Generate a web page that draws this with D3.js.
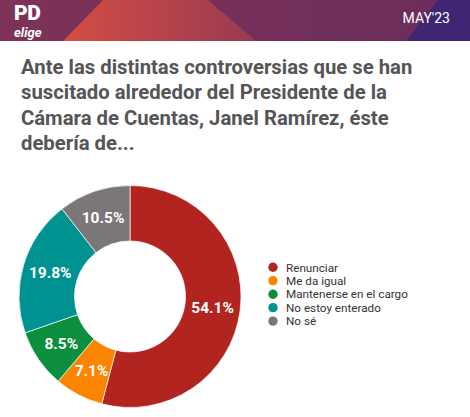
<!DOCTYPE html>
<meta charset="utf-8">
<script src="https://d3js.org/d3.v7.min.js"></script>
<style>
  body { margin: 0; background: #fff; }
  text { font-family: Roboto, "Noto Sans", sans-serif; }
</style>
<div id="chart"></div>
<script>

// data
const categories = ["Renunciar", "Me da igual", "Mantenerse en el cargo", "No estoy enterado", "No sé"];
const values = [54.1, 7.1, 8.5, 19.8, 10.5];
const colors = ["#b1241f", "#fb8400", "#0b8e3e", "#009191", "#7b7677"];
const titleLines = [
  "Ante las distintas controversias que se han",
  "suscitado alrededor del Presidente de la",
  "Cámara de Cuentas, Janel Ramírez, éste",
  "debería de..."
];

const width = 470, height = 417;

const svg = d3.select("#chart")
  .append("svg")
    .attr("width", width)
    .attr("height", height);

// header band
const defs = svg.append("defs");
const bg = defs.append("linearGradient").attr("id", "bg");
bg.append("stop").attr("offset", "0%").attr("stop-color", "#7e3256");
bg.append("stop").attr("offset", "100%").attr("stop-color", "#6b2d5d");
const red = defs.append("linearGradient").attr("id", "red");
red.append("stop").attr("offset", "0%").attr("stop-color", "#d44d43");
red.append("stop").attr("offset", "100%").attr("stop-color", "#973b52");

svg.append("rect")
  .attr("width", width).attr("height", 41)
  .attr("fill", "url(#bg)");
svg.append("path")
  .attr("d", "M103,0 L208,0 L256,41 L63,41 Z")
  .attr("fill", "url(#red)");
svg.append("path")
  .attr("d", "M438,0 L470,0 L470,41 L406,41 Z")
  .attr("fill", "#3e2672");

// logo
svg.append("text")
  .attr("x", 14).attr("y", 20)
  .attr("font-size", 21).attr("font-weight", 900)
  .attr("letter-spacing", -0.5)
  .attr("fill", "#fff")
  .text("PD");
svg.append("text")
  .attr("x", 14).attr("y", 37)
  .attr("font-size", 13).attr("font-weight", 700)
  .attr("font-style", "italic")
  .attr("fill", "#fff")
  .text("elige");

svg.append("text")
  .attr("x", 450).attr("y", 23)
  .attr("text-anchor", "end")
  .attr("font-size", 14)
  .attr("fill", "#fff")
  .text("MAY'23");

// title
svg.append("text")
  .attr("x", 21).attr("y", 74)
  .attr("font-size", 20.3).attr("font-weight", 700)
  .attr("fill", "#555555")
  .selectAll("tspan")
  .data(titleLines)
  .enter()
  .append("tspan")
    .attr("x", 21)
    .attr("dy", (d, i) => i === 0 ? 0 : 25.3)
    .text(d => d);

// donut
const cx = 130, cy = 296.5, outerR = 111, innerR = 55.5;

const pie = d3.pie().sort(null).value(d => d);
const arc = d3.arc().innerRadius(innerR).outerRadius(outerR);
const arcs = pie(values);

const g = svg.append("g")
  .attr("transform", "translate(" + cx + "," + cy + ")");

g.selectAll("path")
  .data(arcs)
  .enter()
  .append("path")
    .attr("d", arc)
    .attr("fill", (d, i) => colors[i])
    .attr("stroke", "#fff")
    .attr("stroke-width", 0.7);

g.selectAll("text")
  .data(arcs)
  .enter()
  .append("text")
    .attr("transform", d => "translate(" + arc.centroid(d) + ")")
    .attr("text-anchor", "middle")
    .attr("dy", "0.36em")
    .attr("font-size", 15.5)
    .attr("font-weight", 700)
    .attr("fill", "#fff")
    .text(d => d.data.toFixed(1) + "%");

// legend
const legend = svg.append("g")
  .selectAll("g")
  .data(categories)
  .enter()
  .append("g")
    .attr("transform", (d, i) => "translate(273," + (267.3 + i * 13.45) + ")");

legend.append("circle")
  .attr("r", 4.7)
  .attr("fill", (d, i) => colors[i]);

legend.append("text")
  .attr("x", 13)
  .attr("dy", "0.36em")
  .attr("font-size", 11.7)
  .attr("fill", "#333")
  .text(d => d);

</script>
